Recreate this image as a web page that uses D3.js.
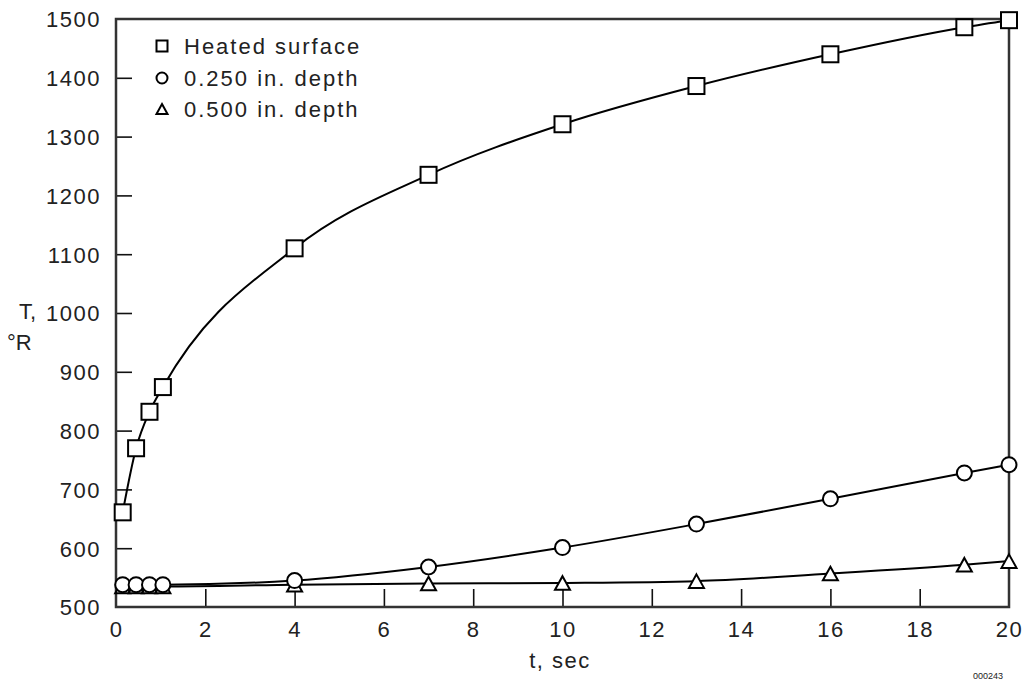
<!DOCTYPE html>
<html>
<head>
<meta charset="utf-8">
<script src="https://cdn.jsdelivr.net/npm/d3@7"></script>
<style>
  html, body { margin: 0; padding: 0; background: #fff; }
  svg text { font-family: "Liberation Sans", Arial, Helvetica, sans-serif; fill: #222; }
</style>
</head>
<body>
<svg id="chart" width="1026" height="685"></svg>
<script>
// ---- data ----
const timeValues = [0.15, 0.45, 0.75, 1.05, 4, 7, 10, 13, 16, 19, 20];
const heatedSurface = [661, 770, 832, 874, 1110, 1235, 1321, 1386, 1440, 1486, 1498];
const depth250 = [538, 538, 538, 538, 545, 568, 601, 641, 684, 728, 742];
const depth500 = [535, 535, 535, 535, 538, 540, 541, 544, 557, 572, 578];
const seriesNames = ["Heated surface", "0.250 in. depth", "0.500 in. depth"];
const seriesSymbols = ["square", "circle", "triangle"];
const xTicks = [0, 2, 4, 6, 8, 10, 12, 14, 16, 18, 20];
const yTicks = [500, 600, 700, 800, 900, 1000, 1100, 1200, 1300, 1400, 1500];

const svg = d3.select("#chart");
const pLeft = 116, pRight = 1009, pTop = 19, pBottom = 607;

const x = d3.scaleLinear().domain([0, 20]).range([pLeft, pRight]);
const y = d3.scaleLinear().domain([500, 1500]).range([pBottom, pTop]);

const fontSize = 22;
const ls = "1.5px";

// ticks (inward)
const gx = svg.append("g").attr("transform", `translate(0,${pBottom})`)
  .call(d3.axisBottom(x).tickValues(xTicks).tickSizeInner(-18).tickSizeOuter(0).tickPadding(26).tickFormat(d3.format("d")));
const gy = svg.append("g").attr("transform", `translate(${pLeft},0)`)
  .call(d3.axisLeft(y).tickValues(yTicks).tickSizeInner(-16).tickSizeOuter(0).tickPadding(15).tickFormat(d3.format("d")));
[gx, gy].forEach(g => {
  g.select(".domain").remove();
  g.selectAll(".tick line").attr("stroke", "#111").attr("stroke-width", 1.6);
  g.selectAll(".tick text").style("font-size", fontSize + "px").style("letter-spacing", ls).attr("fill", "#222");
});
gx.selectAll(".tick text").attr("dy", "0.2em");
gy.selectAll(".tick text").attr("dy", "0.36em");
gx.selectAll(".tick").filter(d => d === 0 || d === 20).select("line").remove();
gy.selectAll(".tick").filter(d => d === 500 || d === 1500).select("line").remove();

// frame
svg.append("rect")
  .attr("x", pLeft).attr("y", pTop)
  .attr("width", pRight - pLeft).attr("height", pBottom - pTop)
  .attr("fill", "none").attr("stroke", "#333").attr("stroke-width", 2.5);

// lines
const allSeries = [heatedSurface, depth250, depth500];
const line = d3.line().x(d => x(d.t)).y(d => y(d.v)).curve(d3.curveMonotoneX);
allSeries.forEach(vals => {
  const pts = timeValues.map((t, i) => ({ t, v: vals[i] }));
  svg.append("path").datum(pts)
    .attr("d", line)
    .attr("fill", "none").attr("stroke", "#000").attr("stroke-width", 2);
});

// markers
function drawSymbol(g, type, cx, cy, s) {
  if (type === "square") {
    g.append("rect").attr("x", cx - s / 2).attr("y", cy - s / 2).attr("width", s).attr("height", s)
      .attr("fill", "#fff").attr("stroke", "#000").attr("stroke-width", 2);
  } else if (type === "circle") {
    g.append("circle").attr("cx", cx).attr("cy", cy).attr("r", s / 2)
      .attr("fill", "#fff").attr("stroke", "#000").attr("stroke-width", 2);
  } else {
    const h = s * 0.9;
    g.append("path")
      .attr("d", `M${cx},${cy - h / 2}L${cx + s / 2},${cy + h / 2}L${cx - s / 2},${cy + h / 2}Z`)
      .attr("fill", "#fff").attr("stroke", "#000").attr("stroke-width", 2);
  }
}
const mg = svg.append("g");
[2, 1, 0].forEach(si => {
  timeValues.forEach((t, i) => {
    drawSymbol(mg, seriesSymbols[si], x(t), y(allSeries[si][i]), si === 0 ? 16 : 15);
  });
});

// legend
const lg = svg.append("g");
const legendY = [46, 78, 109];
seriesNames.forEach((name, i) => {
  drawSymbol(lg, seriesSymbols[i], 162, legendY[i], 11);
  lg.append("text").attr("x", 184).attr("y", legendY[i]).attr("dy", "0.36em")
    .style("font-size", fontSize + "px").style("letter-spacing", "2px").text(name);
});

// axis titles
svg.append("text").attr("x", 19).attr("y", 311).attr("dy", "0.36em")
  .style("font-size", fontSize + "px").text("T,");
svg.append("text").attr("x", 7).attr("y", 342).attr("dy", "0.36em")
  .style("font-size", fontSize + "px").text("°R");
svg.append("text").attr("x", 560).attr("y", 660).attr("dy", "0.36em").attr("text-anchor", "middle")
  .style("font-size", fontSize + "px").style("letter-spacing", ls).text("t, sec");
svg.append("text").attr("x", 1003).attr("y", 676).attr("dy", "0.36em").attr("text-anchor", "end")
  .style("font-size", "9px").attr("fill", "#555").text("000243");
</script>
</body>
</html>
